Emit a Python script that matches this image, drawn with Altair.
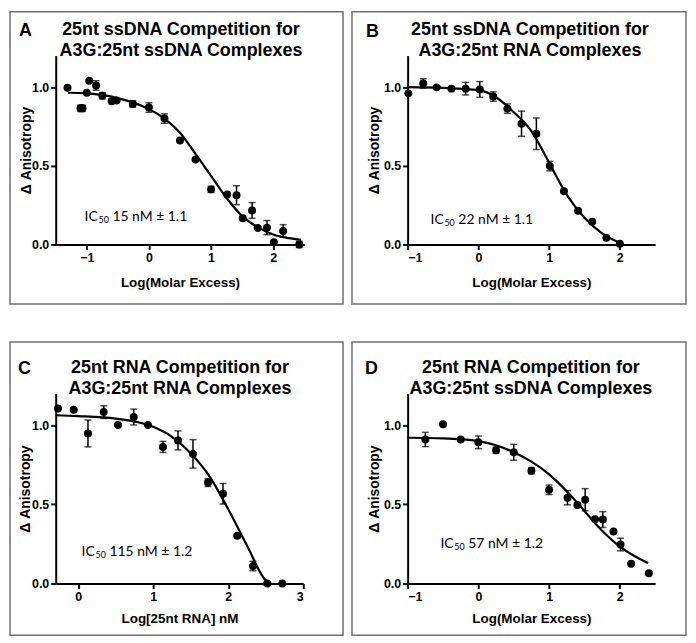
import altair as alt
import pandas as pd

# ---------------- data ----------------
# Panel A
a_x = [-1.31, -1.10, -1.07, -1.00, -0.96, -0.85, -0.75, -0.60, -0.52, -0.26, 0.00, 0.25,
       0.50, 0.75, 1.00, 1.26, 1.41, 1.51, 1.66, 1.75, 1.90, 2.01, 2.16, 2.42]
a_y = [0.996, 0.865, 0.865, 0.964, 1.04, 1.01, 0.945, 0.91, 0.914, 0.893, 0.87, 0.80,
       0.66, 0.54, 0.35, 0.317, 0.313, 0.166, 0.216, 0.105, 0.107, 0.015, 0.086, 0.0]
a_err = [0, 0.02, 0.02, 0, 0, 0.03, 0.02, 0, 0, 0.02, 0.03, 0.03,
         0, 0, 0.02, 0, 0.06, 0, 0.05, 0, 0.045, 0, 0.04, 0.02]
a_fit_x = [-1.30, -1.00, -0.50, 0.00, 0.25, 0.50, 0.75, 1.00, 1.25, 1.50, 1.75, 2.00, 2.25, 2.45]
a_fit_y = [0.964, 0.960, 0.930, 0.860, 0.800, 0.710, 0.575, 0.435, 0.295, 0.180, 0.110, 0.063, 0.040, 0.030]

# Panel B
b_x = [-0.99, -0.78, -0.59, -0.38, -0.18, 0.02, 0.21, 0.41, 0.61, 0.82, 1.01, 1.21, 1.41, 1.61, 1.81, 2.00]
b_y = [0.96, 1.023, 0.998, 0.99, 0.99, 0.985, 0.94, 0.863, 0.767, 0.704, 0.498, 0.338, 0.214, 0.145, 0.042, 0.004]
b_err = [0, 0.03, 0, 0, 0.04, 0.05, 0.03, 0.03, 0.08, 0.10, 0.03, 0, 0, 0, 0, 0]
b_fit_x = [-1.00, -0.50, 0.00, 0.25, 0.50, 0.75, 1.00, 1.25, 1.50, 1.75, 2.00]
b_fit_y = [1.000, 0.995, 0.980, 0.935, 0.840, 0.720, 0.520, 0.315, 0.170, 0.070, 0.010]

# Panel C
c_x = [-0.27, -0.06, 0.13, 0.34, 0.53, 0.74, 0.93, 1.13, 1.33, 1.53, 1.73, 1.93, 2.12, 2.33, 2.52, 2.72]
c_y = [1.106, 1.098, 0.948, 1.083, 1.002, 1.052, 1.002, 0.863, 0.904, 0.819, 0.638, 0.567, 0.302, 0.11, 0.0, 0.0]
c_err = [0, 0, 0.085, 0.04, 0, 0.05, 0, 0.035, 0.06, 0.09, 0.025, 0.065, 0, 0.03, 0, 0]
c_fit_x = [-0.30, 0.00, 0.50, 1.00, 1.25, 1.50, 1.75, 2.00, 2.25, 2.50, 2.57]
c_fit_y = [1.063, 1.058, 1.042, 0.990, 0.927, 0.823, 0.677, 0.469, 0.240, 0.020, 0.000]

# Panel D
d_x = [-0.75, -0.50, -0.25, 0.00, 0.25, 0.50, 0.75, 1.00, 1.26, 1.40, 1.51, 1.65, 1.76, 1.91, 2.01, 2.16, 2.41]
d_y = [0.91, 1.006, 0.91, 0.892, 0.842, 0.829, 0.7125, 0.592, 0.542, 0.496, 0.529, 0.406, 0.404, 0.329, 0.246, 0.125, 0.065]
d_err = [0.045, 0, 0, 0.04, 0.02, 0.05, 0.02, 0.03, 0.045, 0, 0.07, 0, 0.05, 0, 0.04, 0, 0]
d_fit_x = [-1.00, -0.50, 0.00, 0.50, 0.75, 1.00, 1.25, 1.50, 1.75, 2.00, 2.25, 2.40]
d_fit_y = [0.921, 0.917, 0.900, 0.830, 0.770, 0.690, 0.583, 0.458, 0.333, 0.233, 0.163, 0.129]

letters = ["A", "B", "C", "D"]
titles = [
    ["25nt ssDNA Competition for", "A3G:25nt ssDNA Complexes"],
    ["25nt ssDNA Competition for", "A3G:25nt RNA Complexes"],
    ["25nt RNA Competition for", "A3G:25nt RNA Complexes"],
    ["25nt RNA Competition for", "A3G:25nt ssDNA Complexes"],
]
x_titles = ["Log(Molar Excess)", "Log(Molar Excess)", "Log[25nt RNA] nM", "Log(Molar Excess)"]
y_title = "\u0394 Anisotropy"
ic_values = ["15 nM \u00b1 1.1", "22 nM \u00b1 1.1", "115 nM \u00b1 1.2", "57 nM \u00b1 1.2"]
x_domains = [[-1.5, 2.5], [-1.0, 2.5], [-0.3, 3.0], [-1.0, 2.5]]
x_ticks = [[-1, 0, 1, 2], [-1, 0, 1, 2], [0, 1, 2, 3], [-1, 0, 1, 2]]
y_ticks = [0.0, 0.5, 1.0]

AXF = "Liberation Sans"
one = pd.DataFrame({"k": [0]})


def panel(i, px, py, perr, fx, fy, w, h, box, letter_pos, title_x, ic_pos, ytx, xty):
    df = pd.DataFrame({"x": px, "y": py, "lo": [v - e for v, e in zip(py, perr)],
                       "hi": [v + e for v, e in zip(py, perr)]})
    fit = pd.DataFrame({"x": fx, "y": fy})
    xs = alt.Scale(domain=x_domains[i], nice=False, zero=False)
    ys = alt.Scale(domain=[0, 1.2], nice=False, zero=False)
    xaxis = alt.Axis(values=x_ticks[i], format="d", title=x_titles[i], titleY=xty,
                     titleBaseline="middle")
    yaxis = alt.Axis(values=y_ticks, format=".1f", title=y_title, titleX=ytx, titleY=h / 2,
                     titleBaseline="middle", titleAngle=270, titleAlign="center")
    base = alt.Chart(df)
    rules = base.mark_rule(color="black", strokeWidth=1.5).encode(
        x=alt.X("x:Q", scale=xs, axis=xaxis),
        y=alt.Y("lo:Q", scale=ys, axis=yaxis),
        y2="hi:Q",
    )
    cap_hi = base.mark_tick(color="black", orient="horizontal", size=7, thickness=1.5).encode(
        x=alt.X("x:Q", scale=xs), y=alt.Y("hi:Q", scale=ys))
    cap_lo = base.mark_tick(color="black", orient="horizontal", size=7, thickness=1.5).encode(
        x=alt.X("x:Q", scale=xs), y=alt.Y("lo:Q", scale=ys))
    line = alt.Chart(fit).mark_line(color="black", strokeWidth=2.2, interpolate="monotone").encode(
        x=alt.X("x:Q", scale=xs), y=alt.Y("y:Q", scale=ys))
    pts = base.mark_circle(color="black", opacity=1, size=64).encode(
        x=alt.X("x:Q", scale=xs), y=alt.Y("y:Q", scale=ys))

    border = alt.Chart(one).mark_rect(fillOpacity=0, stroke="#6f6f6f", strokeWidth=1.5).encode(
        x=alt.value(box[0]), x2=alt.value(box[1]), y=alt.value(box[2]), y2=alt.value(box[3]))
    letter = alt.Chart(one).mark_text(text=letters[i], font=AXF, fontSize=18, fontWeight="bold",
                                      align="left", baseline="alphabetic", color="black").encode(
        x=alt.value(letter_pos[0]), y=alt.value(letter_pos[1]))
    t1 = alt.Chart(one).mark_text(text=titles[i][0], font=AXF, fontSize=18, fontWeight="bold",
                                  align="center", baseline="alphabetic", color="black").encode(
        x=alt.value(title_x), y=alt.value(-21))
    t2 = alt.Chart(one).mark_text(text=titles[i][1], font=AXF, fontSize=18, fontWeight="bold",
                                  align="center", baseline="alphabetic", color="black").encode(
        x=alt.value(title_x), y=alt.value(0))
    ic1 = alt.Chart(one).mark_text(text="IC", font="Lato", fontSize=14, align="left",
                                   baseline="alphabetic", color="black").encode(
        x=alt.value(ic_pos[0]), y=alt.value(ic_pos[1]))
    ic2 = alt.Chart(one).mark_text(text="50", font="Lato", fontSize=9, align="left",
                                   baseline="alphabetic", color="black").encode(
        x=alt.value(ic_pos[0] + 14), y=alt.value(ic_pos[1] + 2))
    ic3 = alt.Chart(one).mark_text(text=ic_values[i], font="Lato", fontSize=14, align="left",
                                   baseline="alphabetic", color="black").encode(
        x=alt.value(ic_pos[0] + 28), y=alt.value(ic_pos[1]))

    return alt.layer(border, rules, cap_hi, cap_lo, line, pts, letter, t1, t2, ic1, ic2, ic3
                     ).properties(width=w, height=h)


pA = panel(0, a_x, a_y, a_err, a_fit_x, a_fit_y, 250, 190, (-46, 289, -44, 250), (-37, -20), 126, (29, 166), -29, 38)
pB = panel(1, b_x, b_y, b_err, b_fit_x, b_fit_y, 249, 190, (-56, 280, -44, 250), (-42, -19), 123, (23, 169), -33, 38)
pC = panel(2, c_x, c_y, c_err, c_fit_x, c_fit_y, 249, 191, (-46, 289, -52, 243), (-38, -20), 125, (26, 163), -30, 35)
pD = panel(3, d_x, d_y, d_err, d_fit_x, d_fit_y, 249, 191, (-56, 280, -52, 243), (-43, -20), 124, (33, 155), -33, 35)

chart = alt.concat(pA, pB, pC, pD, columns=2, bounds="flush",
                   spacing={"row": 150, "column": 104}).properties(
    padding=0, background="white"
).configure_view(stroke="transparent").configure_axis(
    grid=False,
    domainColor="black", domainWidth=2,
    tickColor="black", tickWidth=2, tickSize=5,
    labelFont=AXF, labelFontSize=12.5, labelFontWeight="bold", labelColor="black", labelPadding=2,
    titleFont=AXF, titleFontSize=13.5, titleFontWeight="bold", titleColor="black",
).configure_axisY(titleFontSize=14)

chart.save("out.html", embed_options={"renderer": "svg", "actions": False})
